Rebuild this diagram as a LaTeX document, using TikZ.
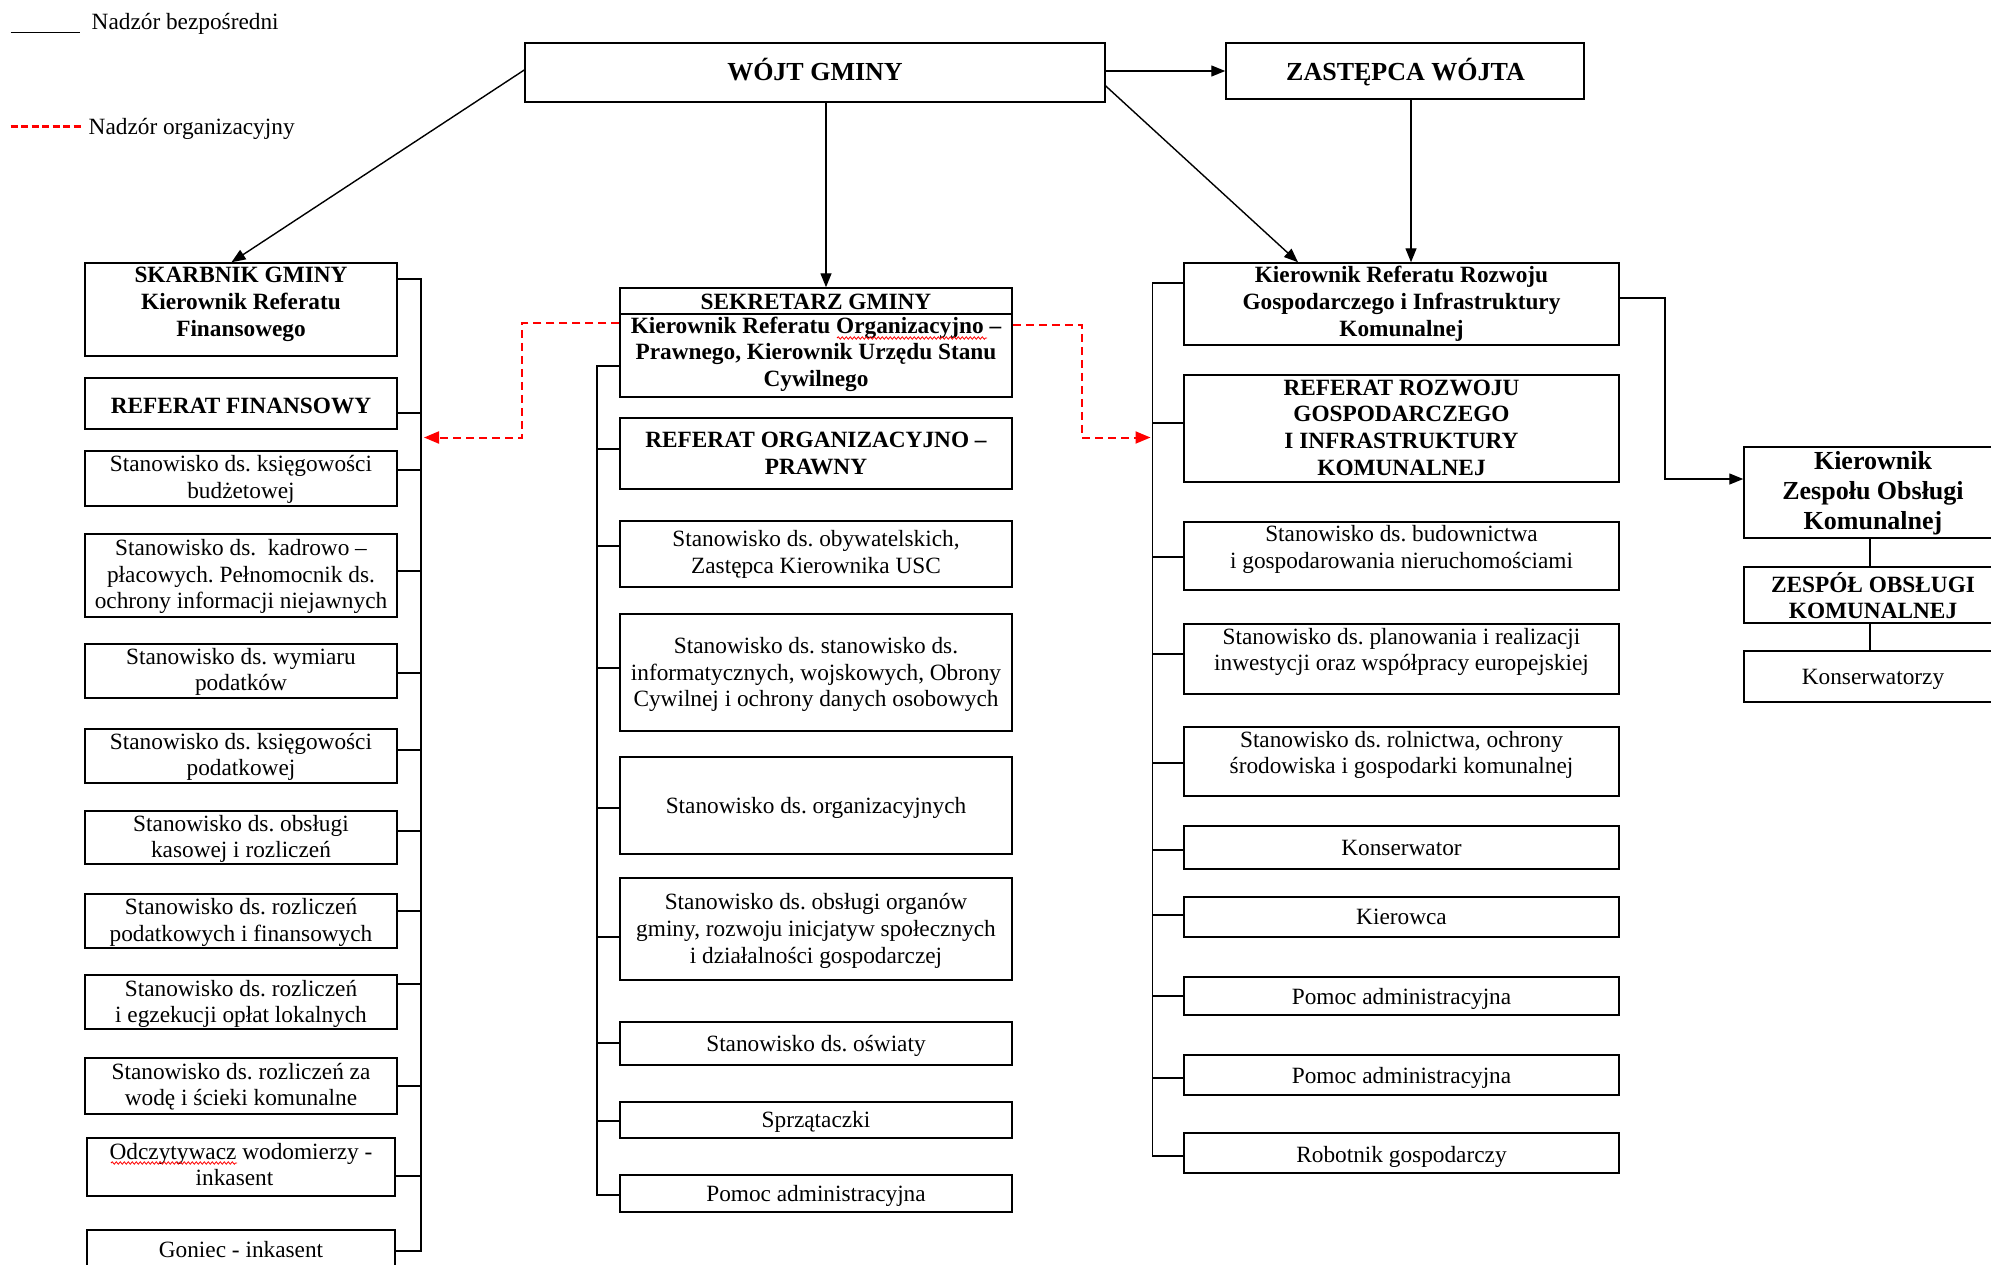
\documentclass[tikz,border=0pt]{standalone}
\usepackage{fontspec}
\setmainfont{Liberation Serif}
\usetikzlibrary{arrows.meta,decorations.pathmorphing}
\frenchspacing
\newcommand\orgbox[5]{\node[boxs, minimum width={(#4-#2)*1pt}, minimum height={(#5-#3)*1pt}] (#1) at ({(#2+#4)/2},{(#3+#5)/2}) {};}
\tikzset{
  boxs/.style={draw=black, line width=1.5pt, inner sep=0pt},
  boxline/.style={draw=black, line width=1.5pt},
  txt/.style={inner sep=0pt, align=center, yshift=-2.5pt, font=\fontsize{23.3}{26.8}\selectfont,
    execute at begin node=\strut, execute at end node=\strut},
  txtb/.style={txt, font=\fontsize{23.3}{26.8}\selectfont\bfseries},
  txtB/.style={txt, font=\fontsize{26}{29.9}\selectfont\bfseries},
  conn/.style={draw=black, line width=1.4pt},
  arr/.style={draw=black, line width=1.4pt, -{Triangle[length=14pt,width=11pt]}},
  reddash/.style={draw=red, line width=2pt, dash pattern=on 8pt off 5pt},
  redarr/.style={reddash, -{Triangle[length=15pt,width=12pt]}},
  squig/.style={draw=red, line width=0.8pt, decorate, decoration={snake, amplitude=1.2pt, segment length=4pt}}
}
\begin{document}
\begin{tikzpicture}[x=1pt,y=-1pt]
\fill[white] (0,0) rectangle (1991,1264);
\useasboundingbox (0,0) rectangle (1991,1264);

% legend
\node[txt, anchor=west] (lg1) at (91.5,22) {Nadzór bezpośredni};
\node[txt, anchor=west] (lg2) at (88.5,126.5) {Nadzór organizacyjny};
\draw[line width=1.3pt] (10.7,32.5) -- (80.4,32.5);
\draw[red, line width=3pt, dash pattern=on 7pt off 3.5pt] (10.7,126) -- (81,126);

% top
\orgbox{W}{525}{43}{1105}{102}
\orgbox{Z}{1226}{43}{1584}{99}
\node[txtB] (Wt) at (815,71) {WÓJT GMINY};
\node[txtB] (Zt) at (1405.5,71) {ZASTĘPCA WÓJTA};

% left column
\orgbox{L1}{85}{263}{397}{356}
\orgbox{L2}{85}{378}{397}{429}
\orgbox{L3}{85}{451}{397}{506}
\orgbox{L4}{85}{534}{397}{617}
\orgbox{L5}{85}{644}{397}{698}
\orgbox{L6}{85}{729}{397}{783}
\orgbox{L7}{85}{811}{397}{864}
\orgbox{L8}{85}{894}{397}{948}
\orgbox{L9}{85}{975}{397}{1029}
\orgbox{L10}{85}{1058}{397}{1114}
\orgbox{L11}{87}{1138}{395}{1196}
\orgbox{L12}{87}{1230}{395}{1272}
\node[txtb] (L1t) at (241,303.5) {SKARBNIK GMINY\\Kierownik Referatu\\Finansowego};
\node[txtb] (L2t) at (241,405.5) {REFERAT FINANSOWY};
\node[txt] (L3t) at (241,478.5) {Stanowisko ds. księgowości\\budżetowej};
\node[txt] (L4t) at (241,575.5) {Stanowisko ds.~~kadrowo –\\płacowych. Pełnomocnik ds.\\ochrony informacji niejawnych};
\node[txt] (L5t) at (241,671) {Stanowisko ds. wymiaru\\podatków};
\node[txt] (L6t) at (241,756) {Stanowisko ds. księgowości\\podatkowej};
\node[txt] (L7t) at (241,838) {Stanowisko ds. obsługi\\kasowej i rozliczeń};
\node[txt] (L8t) at (241,921.5) {Stanowisko ds. rozliczeń\\podatkowych i finansowych};
\node[txt] (L9t) at (241,1003) {Stanowisko ds. rozliczeń\\i egzekucji opłat lokalnych};
\node[txt] (L10t) at (241,1086) {Stanowisko ds. rozliczeń za\\wodę i ścieki komunalne};
\node[txt] (L11t) at (241,1166) {Odczytywacz wodomierzy -\\inkasent\hspace*{13pt}};
\node[txt] (L12t) at (241,1250) {Goniec - inkasent};

% middle column
\orgbox{M1}{620}{288}{1012}{397}
\orgbox{M2}{620}{418}{1012}{489}
\orgbox{M3}{620}{521}{1012}{587}
\orgbox{M4}{620}{614}{1012}{731}
\orgbox{M5}{620}{757}{1012}{854}
\orgbox{M6}{620}{878}{1012}{980}
\orgbox{M7}{620}{1022}{1012}{1065}
\orgbox{M8}{620}{1102}{1012}{1138}
\orgbox{M9}{620}{1175}{1012}{1212}
\draw[boxline] (M1.west |- 0,314) -- (M1.east |- 0,314);
\node[txtb] (M1a) at (816,302) {SEKRETARZ GMINY};
\node[txtb] (M1t) at (816,353.3) {Kierownik Referatu Organizacyjno –\\Prawnego, Kierownik Urzędu Stanu\\Cywilnego};
\node[txtb] (M2t) at (816,454.5) {REFERAT ORGANIZACYJNO –\\PRAWNY};
\node[txt] (M3t) at (816,553.3) {Stanowisko ds. obywatelskich,\\Zastępca Kierownika USC};
\node[txt] (M4t) at (816,673.6) {Stanowisko ds. stanowisko ds.\\informatycznych, wojskowych, Obrony\\Cywilnej i ochrony danych osobowych};
\node[txt] (M5t) at (816,806) {Stanowisko ds. organizacyjnych};
\node[txt] (M6t) at (816,930) {Stanowisko ds. obsługi organów\\gminy, rozwoju inicjatyw społecznych\\i działalności gospodarczej};
\node[txt] (M7t) at (816,1044) {Stanowisko ds. oświaty};
\node[txt] (M8t) at (816,1119.5) {Sprzątaczki};
\node[txt] (M9t) at (816,1194) {Pomoc administracyjna};

% right column
\orgbox{R1}{1184}{263}{1619}{345}
\orgbox{R2}{1184}{375}{1619}{482}
\orgbox{R3}{1184}{522}{1619}{590}
\orgbox{R4}{1184}{624}{1619}{694}
\orgbox{R5}{1184}{727}{1619}{796}
\orgbox{R6}{1184}{826}{1619}{869}
\orgbox{R7}{1184}{897}{1619}{937}
\orgbox{R8}{1184}{977}{1619}{1015}
\orgbox{R9}{1184}{1055}{1619}{1095}
\orgbox{R10}{1184}{1133}{1619}{1173}
\node[txtb] (R1t) at (1401.5,303) {Kierownik Referatu Rozwoju\\Gospodarczego i Infrastruktury\\Komunalnej};
\node[txtb] (R2t) at (1401.5,429) {REFERAT ROZWOJU\\GOSPODARCZEGO\\I INFRASTRUKTURY\\KOMUNALNEJ};
\node[txt] (R3t) at (1401.5,548.3) {Stanowisko ds. budownictwa\\i gospodarowania nieruchomościami};
\node[txt] (R4t) at (1401.5,651) {Stanowisko ds. planowania i realizacji\\inwestycji oraz współpracy europejskiej};
\node[txt] (R5t) at (1401.5,754) {Stanowisko ds. rolnictwa, ochrony\\środowiska i gospodarki komunalnej};
\node[txt] (R6t) at (1401.5,847.5) {Konserwator};
\node[txt] (R7t) at (1401.5,917) {Kierowca};
\node[txt] (R8t) at (1401.5,996.5) {Pomoc administracyjna};
\node[txt] (R9t) at (1401.5,1075.5) {Pomoc administracyjna};
\node[txt] (R10t) at (1401.5,1155) {Robotnik gospodarczy};

% far right
\orgbox{F1}{1744}{447}{2002}{538}
\orgbox{F2}{1744}{567}{2002}{623}
\orgbox{F3}{1744}{651}{2002}{702}
\node[txtB] (F1t) at (1873,492.8) {Kierownik\\Zespołu Obsługi\\Komunalnej};
\node[txtb] (F2t) at (1873,597) {ZESPÓŁ OBSŁUGI\\KOMUNALNEJ};
\node[txt] (F3t) at (1873,677) {Konserwatorzy};

% buses
\coordinate (busL) at (421,0);
\coordinate (busM) at (597,0);
\coordinate (busR) at (1152.5,0);
\draw[conn] (L1.east |- 0,279) -| (busL |- 0,1251) -- (L12.east |- 0,1251);
\foreach \n/\y in {L2/413,L3/470,L4/571,L5/673,L6/750,L7/831,L8/911,L9/984,L10/1086,L11/1176}
  \draw[conn] (\n.east |- 0,\y) -- (busL |- 0,\y);
\draw[conn] (M1.west |- 0,366) -| (busM |- 0,1195) -- (M9.west |- 0,1195);
\foreach \n/\y in {M2/449,M3/546,M4/668,M5/808,M6/937,M7/1043,M8/1121}
  \draw[conn] (\n.west |- 0,\y) -- (busM |- 0,\y);
\draw[conn] (R1.west |- 0,283) -| (busR |- 0,1156) -- (R10.west |- 0,1156);
\foreach \n/\y in {R2/423,R3/557,R4/654,R5/763,R6/850,R7/915,R8/996,R9/1078}
  \draw[conn] (\n.west |- 0,\y) -- (busR |- 0,\y);
\draw[conn] (F1.south -| 1870,0) -- (F2.north -| 1870,0);
\draw[conn] (F2.south -| 1870,0) -- (F3.north -| 1870,0);

% arrows from top
\draw[arr] (W.west |- 0,70) -- (L1.north -| 231.5,0);
\draw[arr] (W.south -| 826,0) -- (M1.north -| 826,0);
\draw[arr] (W.east |- 0,71) -- (Z.west |- 0,71);
\draw[arr] (W.east |- 0,86) -- (R1.north -| 1298,0);
\draw[arr] (Z.south -| 1411,0) -- (R1.north -| 1411,0);
\coordinate (rk) at (1665,0);
\draw[arr] (R1.east |- 0,298) -| (rk |- 0,400) |- (F1.west |- 0,479);

% red organisational supervision
\coordinate (rl) at (522,0);
\coordinate (rr) at (1082,0);
\coordinate (tipL) at (424,0);
\coordinate (tipR) at (1150.5,0);
\draw[redarr] (M1.west |- 0,323) -| (rl |- 0,400) |- (tipL |- 0,437.5);
\draw[redarr] (M1.east |- 0,325) -| (rr |- 0,400) |- (tipR |- 0,437.5);

% spell-check squiggles
\draw[squig] (837,338) -- (987,338);
\draw[squig] (111,1163) -- (237,1163);
\end{tikzpicture}
\end{document}
